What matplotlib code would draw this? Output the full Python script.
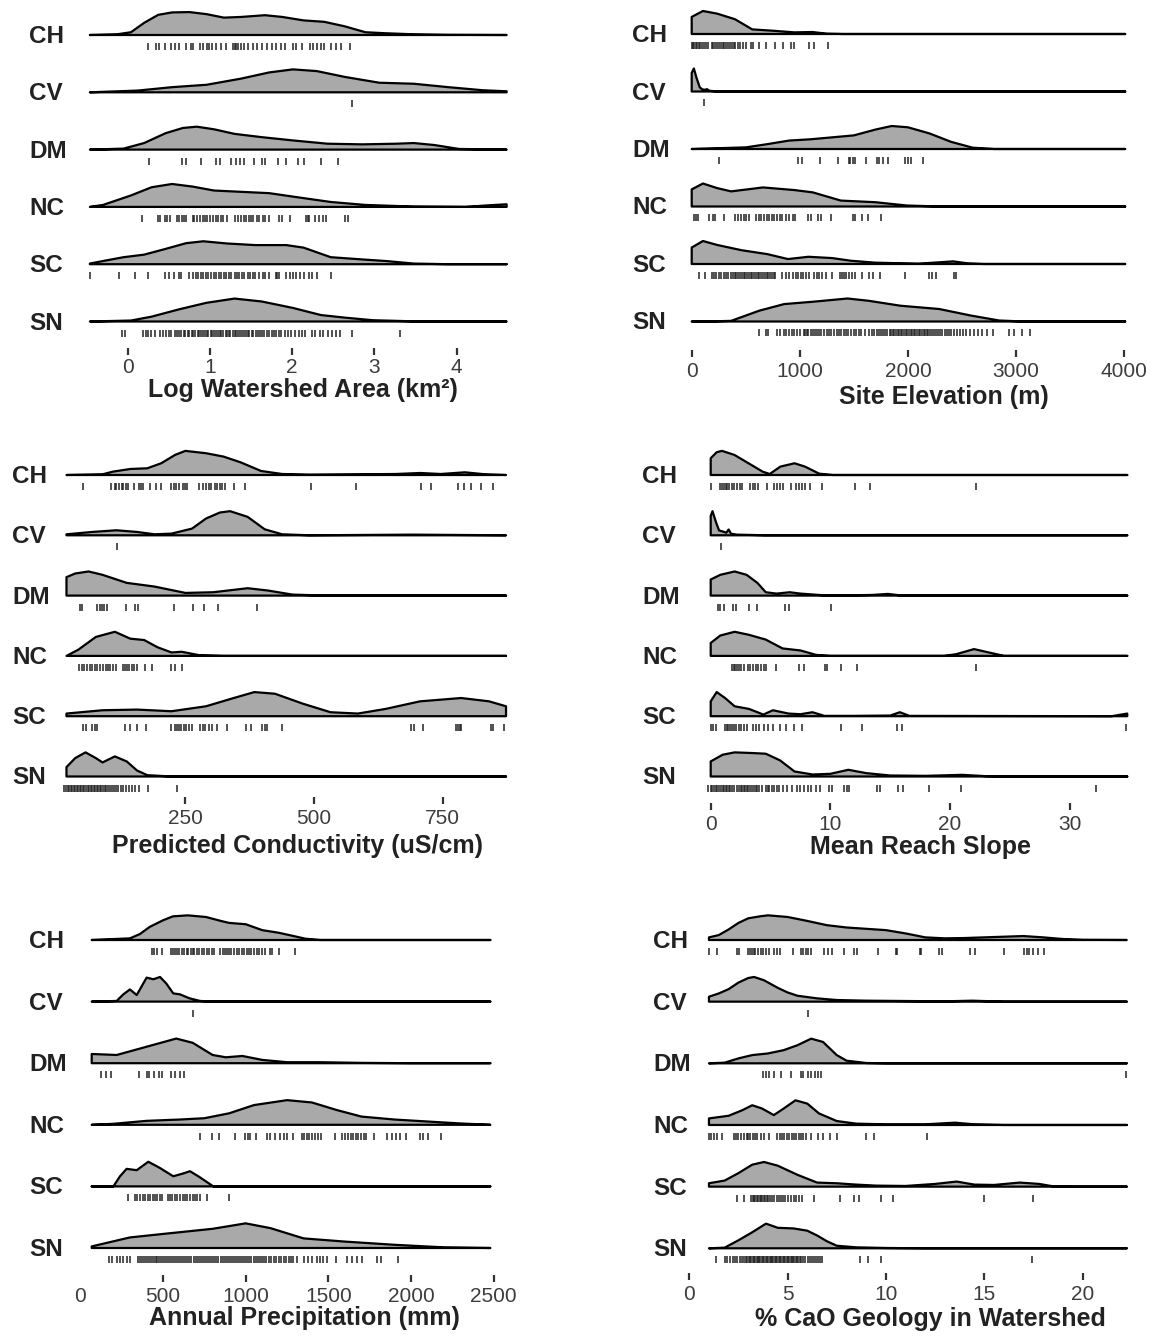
import matplotlib
matplotlib.use('Agg')
import matplotlib.pyplot as plt
import matplotlib.transforms as mtransforms
import numpy as np

plt.rcParams['font.family'] = ['Liberation Sans', 'DejaVu Sans']

GROUPS = ['CH', 'CV', 'DM', 'NC', 'SC', 'SN']

# ---- Log watershed area -------------------------------------------------
AREA_DENS = {
    'CH': ([-0.46, -0.13, 0.04, 0.2, 0.37, 0.54, 0.75, 0.96, 1.17, 1.38, 1.67, 1.88, 2.14, 2.39, 2.64, 2.89, 3.14, 3.48, 3.9, 4.61],
           [0, 2, 8, 35, 58, 65, 66, 60, 50, 52, 57, 52, 42, 38, 25, 8, 5, 2, 0.5, 0]),
    'CV': ([-0.46, 0.12, 0.54, 0.96, 1.38, 1.72, 2.01, 2.30, 2.64, 3.06, 3.48, 3.90, 4.32, 4.61],
           [0, 5, 15, 22, 40, 58, 67, 62, 45, 28, 25, 15, 6, 3]),
    'DM': ([-0.46, -0.05, 0.2, 0.46, 0.67, 0.84, 1.05, 1.30, 1.63, 2.01, 2.43, 2.85, 3.27, 3.48, 3.73, 4.03, 4.61],
           [0, 3, 20, 50, 66, 70, 62, 48, 38, 28, 18, 16, 18, 20, 14, 2, 0]),
    'NC': ([-0.46, -0.3, 0.04, 0.29, 0.54, 0.79, 1.05, 1.38, 1.72, 2.05, 2.47, 2.89, 3.48, 4.11, 4.40, 4.61],
           [0, 6, 35, 60, 70, 62, 50, 46, 42, 30, 15, 6, 1, 0, 5, 8]),
    'SC': ([-0.46, -0.3, -0.05, 0.2, 0.46, 0.71, 0.92, 1.21, 1.55, 1.93, 2.14, 2.47, 2.85, 3.14, 3.48, 3.9, 4.61],
           [2, 10, 22, 30, 48, 66, 72, 65, 60, 60, 52, 22, 15, 10, 2, 0, 0]),
    'SN': ([-0.46, 0.04, 0.29, 0.63, 0.96, 1.30, 1.63, 2.01, 2.35, 2.64, 2.98, 3.48, 4.61],
           [0, 3, 15, 38, 58, 71, 62, 42, 20, 12, 4, 0.5, 0]),
}
AREA_RUG = {
    'CH': [0.25, 0.35, 0.38, 0.45, 0.53, 0.58, 0.63, 0.71, 0.77, 0.79, 0.88, 0.92, 0.96, 0.99, 1.02, 1.07, 1.13,
           1.19, 1.28, 1.30, 1.32, 1.34, 1.38, 1.42, 1.46, 1.53, 1.57, 1.63, 1.70, 1.76, 1.80, 1.86, 1.91, 2.01,
           2.05, 2.12, 2.22, 2.26, 2.30, 2.35, 2.39, 2.47, 2.54, 2.60, 2.70],
    'CV': [2.73],
    'DM': [0.26, 0.66, 0.71, 0.89, 1.08, 1.12, 1.26, 1.32, 1.37, 1.42, 1.54, 1.63, 1.67, 1.83, 1.92, 2.07, 2.14,
           2.35, 2.56],
    'NC': [0.17, 0.37, 0.39, 0.45, 0.48, 0.51, 0.60, 0.63, 0.66, 0.69, 0.71, 0.79, 0.81, 0.84, 0.88, 0.91, 0.94,
           0.97, 1.00, 1.04, 1.07, 1.10, 1.13, 1.16, 1.21, 1.30, 1.34, 1.38, 1.41, 1.44, 1.47, 1.50, 1.53, 1.57,
           1.60, 1.64, 1.67, 1.72, 1.84, 1.88, 1.98, 2.17, 2.19, 2.21, 2.28, 2.33, 2.37, 2.41, 2.64, 2.68],
    'SC': [-0.46, -0.10, 0.09, 0.25, 0.45, 0.50, 0.56, 0.63, 0.65, 0.75, 0.79, 0.83, 0.86, 0.89, 0.92, 0.95, 0.98,
           1.01, 1.05, 1.08, 1.11, 1.14, 1.17, 1.20, 1.23, 1.26, 1.30, 1.33, 1.36, 1.39, 1.42, 1.46, 1.49, 1.52,
           1.55, 1.60, 1.64, 1.67, 1.72, 1.80, 1.82, 1.84, 1.93, 1.97, 2.01, 2.05, 2.10, 2.14, 2.20, 2.24, 2.30, 2.47],
    'SN': [-0.07, -0.03, 0.19, 0.22, 0.25, 0.28, 0.33, 0.39, 0.43, 0.47, 0.50, 0.53, 0.57, 0.60, 0.62, 0.65, 0.68,
           0.70, 0.73, 0.75, 0.78, 0.80, 0.82, 0.85, 0.87, 0.89, 0.92, 0.94, 0.96, 0.98, 1.01, 1.03, 1.05, 1.07,
           1.10, 1.12, 1.14, 1.16, 1.19, 1.21, 1.23, 1.25, 1.28, 1.30, 1.32, 1.34, 1.37, 1.39, 1.41, 1.44, 1.46,
           1.48, 1.51, 1.53, 1.56, 1.58, 1.61, 1.63, 1.66, 1.69, 1.72, 1.75, 1.78, 1.81, 1.84, 1.87, 1.91, 1.95,
           1.99, 2.03, 2.08, 2.12, 2.16, 2.24, 2.28, 2.34, 2.38, 2.44, 2.48, 2.54, 2.58, 2.73, 3.31],
}

# ---- Site elevation ------------------------------------------------------
ELEV_DENS = {
    'CH': ([0, 104, 235, 400, 560, 750, 950, 1116, 1250, 1400, 4010],
           [52, 70, 62, 45, 14, 10, 5, 6, 1, 0, 0]),
    'CV': ([0, 20, 45, 75, 100, 125, 140, 165, 250, 4010],
           [55, 68, 40, 12, 6, 5, 7, 2, 0, 0]),
    'DM': ([0, 200, 500, 700, 900, 1100, 1300, 1500, 1700, 1850, 2000, 2200, 2400, 2600, 2800, 4010],
           [0, 2, 5, 15, 26, 30, 36, 42, 60, 71, 67, 48, 22, 4, 0, 0]),
    'NC': ([0, 104, 235, 365, 660, 950, 1120, 1380, 1700, 1990, 2300, 4010],
           [52, 70, 56, 46, 58, 50, 43, 18, 13, 3, 0, 0]),
    'SC': ([0, 104, 235, 460, 700, 890, 1080, 1300, 1470, 1700, 2100, 2420, 2550, 2700, 4010],
           [50, 70, 58, 42, 30, 15, 22, 18, 10, 4, 1, 8, 2, 0, 0]),
    'SN': ([0, 200, 365, 626, 855, 1116, 1442, 1638, 1931, 2290, 2584, 2845, 3073, 4010],
           [0, 0.5, 2, 33, 53, 60, 70, 63, 48, 38, 18, 3, 0, 0]),
}
ELEV_RUG = {
    'CH': [0, 12, 25, 38, 52, 65, 80, 95, 110, 128, 150, 185, 200, 215, 232, 250, 268, 285, 300, 318, 335, 352,
           370, 388, 405, 425, 445, 470, 500, 545, 568, 620, 685, 767, 848, 914, 946, 1083, 1132, 1263],
    'CV': [114],
    'DM': [251, 985, 1018, 1188, 1351, 1452, 1468, 1491, 1514, 1612, 1713, 1736, 1768, 1817, 1971, 1997, 2029, 2144],
    'NC': [23, 39, 55, 163, 196, 219, 300, 398, 431, 457, 480, 502, 529, 594, 620, 643, 666, 692, 718, 741, 763,
           790, 816, 839, 871, 904, 936, 953, 1077, 1100, 1171, 1197, 1285, 1491, 1507, 1573, 1628, 1752],
    'SC': [72, 121, 186, 202, 228, 251, 274, 300, 316, 339, 359, 382, 398, 414, 431, 447, 463, 480, 496, 512, 529,
           545, 561, 578, 594, 610, 626, 643, 659, 675, 692, 708, 724, 741, 757, 773, 839, 871, 904, 936, 962, 985,
           1011, 1034, 1060, 1083, 1132, 1155, 1181, 1204, 1246, 1295, 1370, 1387, 1409, 1432, 1458, 1481, 1514,
           1573, 1638, 1680, 1746, 1971, 2192, 2225, 2258, 2431, 2447],
    'SN': [618, 689, 710, 788, 819, 850, 871, 896, 927, 948, 973, 1004, 1035, 1050, 1065, 1080, 1100, 1120, 1140,
           1160, 1180, 1200, 1225, 1250, 1270, 1290, 1315, 1340, 1360, 1385, 1410, 1430, 1450, 1475, 1500, 1520,
           1545, 1570, 1600, 1640, 1665, 1690, 1710, 1730, 1750, 1770, 1790, 1810, 1830, 1845, 1860, 1875, 1890,
           1905, 1920, 1935, 1950, 1965, 1980, 1995, 2010, 2025, 2040, 2055, 2070, 2085, 2100, 2115, 2130, 2145,
           2160, 2175, 2190, 2205, 2220, 2240, 2260, 2280, 2300, 2320, 2340, 2360, 2380, 2400, 2425, 2450, 2480,
           2510, 2540, 2575, 2610, 2650, 2690, 2734, 2787, 2935, 2981, 3052, 3126],
}

# ---- Predicted conductivity ---------------------------------------------
COND_DENS = {
    'CH': ([19, 89, 109, 143, 176, 203, 230, 250, 290, 324, 357, 397, 438, 491, 659, 706, 746, 793, 833, 873],
           [0, 2, 10, 18, 20, 35, 60, 72, 65, 55, 38, 12, 3, 1, 3, 6, 3, 8, 2, 0]),
    'CV': ([19, 69, 116, 156, 190, 223, 263, 290, 317, 337, 371, 404, 438, 491, 692, 873],
           [3, 10, 15, 10, 3, 5, 20, 50, 68, 72, 55, 18, 3, 0, 2, 0]),
    'DM': ([19, 36, 62, 89, 136, 190, 250, 304, 371, 411, 458, 525, 873],
           [55, 66, 72, 62, 38, 27, 8, 10, 22, 15, 3, 0, 0]),
    'NC': ([19, 42, 76, 113, 143, 170, 196, 223, 243, 277, 324, 873],
           [0, 18, 55, 70, 50, 46, 25, 10, 12, 2, 0, 0]),
    'SC': ([19, 89, 156, 223, 290, 344, 384, 424, 478, 532, 585, 639, 706, 786, 840, 873],
           [8, 18, 20, 15, 30, 55, 73, 68, 38, 12, 8, 22, 45, 55, 45, 30]),
    'SN': ([19, 36, 56, 76, 89, 113, 136, 156, 176, 223, 873],
           [28, 55, 72, 55, 42, 60, 45, 18, 4, 0, 0]),
}
COND_RUG = {
    'CH': [51, 106, 113, 116, 121, 126, 129, 135, 139, 151, 160, 164, 168, 182, 193, 202, 222, 227, 231, 237, 245,
           250, 253, 277, 284, 290, 296, 300, 307, 312, 317, 322, 327, 344, 365, 495, 582, 708, 728, 779, 792, 805,
           825, 848],
    'CV': [117],
    'DM': [46, 50, 79, 84, 88, 92, 97, 135, 153, 158, 227, 265, 286, 314, 389],
    'NC': [44, 49, 54, 59, 64, 69, 74, 79, 84, 89, 95, 99, 104, 109, 115, 129, 133, 137, 141, 146, 151, 156, 171,
           186, 223, 229, 243],
    'SC': [51, 56, 69, 74, 79, 133, 143, 156, 173, 223, 229, 233, 238, 242, 247, 251, 257, 263, 278, 284, 289, 296,
           302, 312, 330, 367, 377, 399, 404, 408, 438, 689, 694, 711, 776, 779, 783, 786, 843, 848, 870],
    'SN': [15, 18, 21, 24, 27, 30, 33, 36, 39, 42, 45, 48, 51, 54, 57, 60, 63, 66, 69, 72, 75, 78, 81, 84, 87, 90,
           93, 96, 99, 103, 107, 111, 115, 120, 124, 129, 135, 141, 146, 153, 160, 178, 233],
}

# ---- Mean reach slope ----------------------------------------------------
SLOPE_DENS = {
    'CH': ([0, 0.5, 0.94, 1.98, 3.16, 4.34, 4.93, 5.82, 7.0, 7.88, 9.06, 10.2, 34.8],
           [50, 68, 72, 60, 35, 10, 3, 25, 35, 25, 4, 0, 0]),
    'CV': ([0, 0.15, 0.45, 0.7, 1.0, 1.3, 1.5, 1.7, 2.2, 3.5, 4.5, 34.8],
           [60, 75, 40, 15, 12, 8, 18, 5, 2, 1, 0, 0]),
    'DM': ([0, 0.8, 2.0, 3.0, 3.9, 4.6, 5.5, 6.6, 7.5, 9.0, 10.0, 13.5, 14.8, 16.0, 34.8],
           [48, 62, 72, 62, 38, 10, 6, 10, 6, 2, 0, 2, 5, 0, 0]),
    'NC': ([0, 0.8, 2.0, 3.2, 4.6, 6.0, 7.5, 8.8, 10.0, 19.5, 20.5, 22.0, 23.0, 24.5, 34.8],
           [38, 60, 71, 62, 48, 22, 16, 3, 0, 0, 5, 20, 12, 0, 0]),
    'SC': ([0, 0.5, 1.2, 2.0, 3.2, 4.4, 5.2, 6.5, 7.5, 8.5, 9.5, 12.0, 15.0, 15.8, 16.6, 33.5, 34.8],
           [45, 73, 55, 30, 22, 5, 18, 8, 6, 12, 1, 1, 2, 12, 1, 0, 8]),
    'SN': ([0, 1.0, 2.0, 3.5, 4.6, 5.8, 7.0, 8.5, 10.0, 11.5, 13.0, 15.0, 18.0, 21.0, 23.0, 25.0, 34.8],
           [45, 65, 72, 70, 68, 48, 15, 6, 8, 20, 10, 3, 2, 5, 1, 0, 0]),
}
SLOPE_RUG = {
    'CH': [0.06, 0.74, 0.94, 1.09, 1.24, 1.39, 1.54, 1.74, 1.98, 2.21, 2.42, 2.63, 3.31, 3.51, 3.69, 3.96, 4.69,
           5.31, 5.52, 5.82, 6.05, 6.70, 7.09, 7.38, 7.59, 7.88, 8.33, 9.30, 12.02, 13.29, 22.14],
    'CV': [0.86],
    'DM': [0.65, 0.80, 1.09, 1.83, 2.13, 3.16, 3.84, 6.17, 6.55, 10.01],
    'NC': [1.74, 1.92, 2.07, 2.21, 2.36, 2.57, 2.80, 3.10, 3.31, 3.51, 3.75, 3.96, 4.19, 4.43, 4.64, 5.43, 7.38,
           7.82, 9.51, 9.71, 10.92, 12.22, 22.14],
    'SC': [0.0, 0.21, 0.41, 1.18, 1.33, 1.48, 1.62, 1.77, 1.92, 2.13, 2.36, 2.57, 2.80, 3.01, 3.54, 3.75, 4.04,
           4.49, 4.78, 5.23, 5.76, 6.32, 7.00, 7.65, 10.92, 12.61, 15.56, 16.0, 34.66],
    'SN': [-0.2, 0.0, 0.15, 0.3, 0.45, 0.55, 0.7, 0.85, 1.0, 1.1, 1.25, 1.4, 1.5, 1.65, 1.8, 1.95, 2.2, 2.35, 2.5,
           2.6, 2.75, 2.9, 3.0, 3.15, 3.3, 3.45, 3.6, 3.75, 3.9, 4.05, 4.3, 4.6, 4.75, 4.9, 5.1, 5.3, 5.5, 5.7,
           6.0, 6.4, 6.8, 7.2, 7.5, 7.8, 8.1, 8.4, 8.8, 9.1, 9.92, 10.11, 11.17, 11.36, 11.56, 13.87, 14.15,
           15.68, 16.10, 18.27, 20.92, 32.2],
}

# ---- Annual precipitation ------------------------------------------------
PRECIP_DENS = {
    'CH': ([69, 300, 360, 420, 500, 560, 650, 760, 850, 900, 1000, 1100, 1200, 1290, 1360, 1450, 2479],
           [0, 5, 18, 40, 60, 72, 75, 70, 58, 52, 48, 30, 22, 12, 4, 0, 0]),
    'CV': ([69, 220, 260, 300, 341, 401, 442, 482, 520, 562, 603, 660, 724, 800, 2479],
           [0, 2, 22, 37, 20, 73, 68, 75, 55, 25, 22, 10, 2, 0, 0]),
    'DM': ([69, 220, 400, 580, 680, 800, 880, 980, 1100, 1250, 1450, 1700, 2000, 2479],
           [28, 25, 50, 75, 62, 25, 18, 22, 10, 3, 3, 1, 0, 0]),
    'NC': ([69, 200, 400, 600, 750, 900, 1050, 1250, 1400, 1550, 1700, 1900, 2100, 2300, 2479],
           [0, 3, 12, 16, 20, 35, 60, 75, 68, 45, 25, 16, 10, 4, 0]),
    'SC': ([69, 200, 240, 280, 341, 411, 480, 562, 620, 663, 720, 804, 2479],
           [0, 0, 30, 52, 48, 73, 55, 30, 38, 45, 28, 0, 0]),
    'SN': ([69, 300, 520, 800, 1000, 1150, 1350, 1600, 1900, 2200, 2479],
           [5, 33, 45, 60, 77, 62, 30, 20, 10, 2, 0]),
}
PRECIP_RUG = {
    'CH': [436, 446, 462, 495, 546, 558, 572, 586, 598, 613, 627, 643, 653, 667, 679, 689, 703, 719, 733, 748, 764,
           778, 794, 808, 844, 860, 874, 884, 900, 914, 929, 945, 961, 975, 989, 1005, 1021, 1035, 1049, 1066,
           1078, 1096, 1116, 1146, 1162, 1203, 1297],
    'CV': [679],
    'DM': [125, 156, 186, 357, 401, 415, 446, 474, 494, 546, 572, 602, 629],
    'NC': [723, 794, 840, 935, 995, 1011, 1029, 1061, 1126, 1146, 1179, 1207, 1233, 1251, 1288, 1338, 1352, 1368,
           1384, 1400, 1418, 1438, 1458, 1539, 1585, 1601, 1619, 1634, 1650, 1666, 1680, 1696, 1714, 1730, 1777,
           1855, 1882, 1906, 1932, 1972, 2052, 2073, 2103, 2179],
    'SC': [291, 331, 345, 361, 377, 393, 407, 421, 437, 451, 466, 482, 495, 528, 542, 556, 572, 586, 602, 619, 633,
           647, 663, 679, 693, 707, 723, 764, 897],
    'SN': [175, 190, 220, 240, 260, 280, 300, 351, 362, 373, 385, 398, 410, 420, 432, 445, 455, 465, 478, 490, 500,
           512, 525, 535, 548, 560, 572, 585, 596, 610, 622, 635, 648, 660, 672, 685, 698, 710, 722, 735, 748, 760,
           772, 785, 798, 810, 822, 835, 848, 860, 872, 885, 898, 910, 922, 935, 948, 960, 972, 985, 998, 1010,
           1022, 1035, 1048, 1060, 1072, 1085, 1098, 1110, 1125, 1140, 1155, 1170, 1185, 1200, 1215, 1230, 1245,
           1260, 1275, 1288, 1308, 1353, 1379, 1399, 1429, 1449, 1470, 1490, 1546, 1611, 1641, 1671, 1702, 1792,
           1818, 1923],
}

# ---- % CaO geology -------------------------------------------------------
CAO_DENS = {
    'CH': ([1.0, 1.5, 2.0, 2.5, 3.0, 3.6, 4.0, 5.0, 6.0, 7.0, 8.0, 9.0, 10.0, 11.0, 12.0, 13.0, 14.0, 15.0, 16.0,
            17.0, 18.0, 19.0, 20.0, 22.25],
           [8, 15, 32, 52, 66, 72, 75, 70, 58, 45, 38, 34, 30, 20, 8, 5, 6, 8, 10, 12, 8, 3, 0.5, 0]),
    'CV': ([1.0, 1.5, 2.0, 2.5, 3.0, 3.3, 3.8, 4.5, 5.0, 5.5, 6.5, 7.5, 9.0, 11.0, 13.0, 14.4, 16.0, 22.25],
           [15, 25, 38, 58, 72, 75, 65, 42, 28, 18, 10, 5, 3, 2, 1, 3, 0, 0]),
    'DM': ([1.0, 1.8, 2.5, 3.2, 4.0, 4.8, 5.5, 6.2, 6.8, 7.5, 8.0, 9.0, 10.0, 22.25],
           [0, 2, 15, 25, 30, 40, 55, 75, 65, 25, 8, 1, 0, 0]),
    'NC': ([1.0, 2.0, 2.7, 3.2, 3.7, 4.3, 4.8, 5.4, 6.0, 6.6, 7.5, 8.5, 10.0, 12.0, 13.5, 14.5, 16.0, 22.25],
           [20, 28, 45, 60, 50, 30, 50, 75, 65, 35, 12, 4, 2, 2, 7, 2, 0, 0]),
    'SC': ([1.0, 1.8, 2.5, 3.2, 3.8, 4.5, 5.5, 6.5, 7.5, 8.5, 9.5, 11.0, 12.5, 13.6, 14.5, 15.5, 16.8, 17.8, 18.5,
            19.5, 22.25],
           [10, 18, 40, 65, 73, 62, 35, 12, 10, 6, 3, 2, 8, 15, 6, 5, 12, 8, 1, 0, 0]),
    'SN': ([1.0, 1.8, 2.5, 3.2, 3.9, 4.5, 5.3, 6.0, 6.5, 7.0, 7.5, 8.5, 10.0, 12.0, 22.25],
           [0, 2, 25, 50, 77, 64, 62, 55, 40, 22, 8, 3, 1, 0, 0]),
}
CAO_RUG = {
    'CH': [0.99, 1.42, 2.43, 2.55, 2.97, 3.09, 3.18, 3.27, 3.36, 3.51, 3.63, 3.76, 3.90, 4.05, 4.30, 4.44, 4.59,
           5.25, 5.67, 5.79, 5.92, 6.06, 6.21, 6.87, 7.05, 7.28, 7.86, 8.40, 8.54, 9.60, 10.52, 10.56, 11.73, 11.76,
           12.72, 12.86, 14.28, 14.51, 16.01, 17.0, 17.16, 17.30, 17.48, 17.75, 18.02],
    'CV': [6.06],
    'DM': [3.76, 3.90, 4.05, 4.32, 4.66, 5.16, 5.67, 5.79, 6.03, 6.21, 6.38, 6.56, 6.69, 22.19],
    'NC': [0.99, 1.12, 1.24, 1.42, 1.65, 2.25, 2.37, 2.50, 2.64, 2.79, 2.91, 3.00, 3.09, 3.22, 3.33, 3.45, 3.63,
           3.81, 4.05, 4.48, 4.59, 4.71, 4.84, 4.95, 5.07, 5.20, 5.31, 5.43, 5.56, 5.67, 5.79, 5.92, 6.17, 6.56,
           6.78, 7.18, 7.50, 8.97, 9.39, 12.09],
    'SC': [2.43, 2.79, 3.15, 3.22, 3.29, 3.36, 3.44, 3.51, 3.58, 3.65, 3.72, 3.79, 3.87, 3.94, 4.01, 4.12, 4.23,
           4.33, 4.44, 4.55, 4.66, 4.77, 4.89, 5.02, 5.16, 5.31, 5.43, 5.56, 5.74, 6.33, 7.64, 8.40, 8.62, 9.75,
           10.38, 15.0, 17.48],
    'SN': [1.36, 1.81, 1.93, 2.07, 2.20, 2.32, 2.44, 2.58, 2.66, 2.78, 2.88, 2.95, 3.02, 3.08, 3.15, 3.22, 3.28,
           3.35, 3.42, 3.48, 3.55, 3.62, 3.68, 3.75, 3.82, 3.88, 3.95, 4.02, 4.08, 4.15, 4.22, 4.28, 4.35, 4.42,
           4.48, 4.55, 4.62, 4.68, 4.75, 4.82, 4.88, 4.95, 5.02, 5.08, 5.15, 5.22, 5.28, 5.35, 5.42, 5.48, 5.55,
           5.62, 5.70, 5.78, 5.90, 6.02, 6.12, 6.22, 6.35, 6.45, 6.55, 6.65, 6.73, 8.68, 9.11, 9.73, 17.42],
}

TITLES = ['Log Watershed Area (km²)', 'Site Elevation (m)', 'Predicted Conductivity (uS/cm)',
          'Mean Reach Slope', 'Annual Precipitation (mm)', '% CaO Geology in Watershed']
TICKS = [[0, 1, 2, 3, 4], [0, 1000, 2000, 3000, 4000], [250, 500, 750],
         [0, 10, 20, 30], [0, 500, 1000, 1500, 2000, 2500], [0, 5, 10, 15, 20]]

W, H = 1154, 1337
FILL = '#a9a9a9'

# layout in pixels: x of value 0, px per unit, xlim, CH baseline, SN baseline,
# axis line, label left, title centre
PANELS = [
    dict(dens=AREA_DENS, rug=AREA_RUG, x0=127.7, ppu=82.2, xlim=(-0.5, 4.65),
         top=35, bot=321.5, axis=348, lab=29, tpos=(303, 390), pad=2.5),
    dict(dens=ELEV_DENS, rug=ELEV_RUG, x0=691.7, ppu=0.1081, xlim=(-40, 4050),
         top=34, bot=321.5, axis=350, lab=632, tpos=(944, 397), pad=4),
    dict(dens=COND_DENS, rug=COND_RUG, x0=56.7, ppu=0.5147, xlim=(15, 880),
         top=475, bot=776.5, axis=797, lab=12, tpos=(297.5, 846), pad=4),
    dict(dens=SLOPE_DENS, rug=SLOPE_RUG, x0=710.7, ppu=11.97, xlim=(-0.5, 35.0),
         top=475, bot=776.5, axis=803, lab=642, tpos=(920, 847), pad=4),
    dict(dens=PRECIP_DENS, rug=PRECIP_RUG, x0=80.3, ppu=0.1654, xlim=(-10, 2510),
         top=940, bot=1248, axis=1275, lab=29, tpos=(304, 1318), pad=4),
    dict(dens=CAO_DENS, rug=CAO_RUG, x0=689.3, ppu=19.66, xlim=(-0.3, 22.5),
         top=940, bot=1248.3, axis=1273, lab=653, tpos=(930, 1319), pad=4),
]

fig = plt.figure(figsize=(W / 100, H / 100), dpi=100)

for i, p in enumerate(PANELS):
    s = (p['bot'] - p['top']) / 5.0
    left = p['x0'] + p['ppu'] * p['xlim'][0]
    right = p['x0'] + p['ppu'] * p['xlim'][1]
    top_px = p['top'] - 0.75 * s
    ax = fig.add_axes([left / W, 1 - p['axis'] / H, (right - left) / W, (p['axis'] - top_px) / H])
    ax.set_xlim(*p['xlim'])
    ax.set_ylim(-(p['axis'] - p['bot']) / s, 5.75)
    for sp in ax.spines.values():
        sp.set_visible(False)
    ax.set_yticks([])
    ax.set_xticks(TICKS[i])
    ax.tick_params(axis='x', length=5, width=1.6, color='#333333', labelsize=15,
                   labelcolor='#3d3d3d', pad=p['pad'])
    if i == 4:
        ax.xaxis.get_major_ticks()[0].tick1line.set_visible(False)

    trans = mtransforms.blended_transform_factory(fig.transFigure, ax.transData)
    for k, g in enumerate(GROUPS):
        row = 5 - k
        xs, hs = p['dens'][g]
        xs = np.asarray(xs, float)
        hs = np.asarray(hs, float)
        hs = hs / hs.max() * 0.4
        px = np.concatenate([[xs[0]], xs, [xs[-1]]])
        py = np.concatenate([[row], row + hs, [row]])
        ax.fill(px, py, facecolor=FILL, edgecolor='black', lw=1.6,
                joinstyle='round', clip_on=False, zorder=2)
        ax.vlines(p['rug'][g], row - 15 / s, row - 8 / s, color='#222222', lw=1.1,
                  clip_on=False, zorder=3)
        ax.text(p['lab'] / W, row - 8 / s, g, transform=trans, ha='left', va='baseline',
                fontsize=17.5, fontweight='bold', color='#222222')

    fig.text(p['tpos'][0] / W, 1 - p['tpos'][1] / H, TITLES[i], ha='center', va='center',
             fontsize=18, fontweight='bold', color='#222222')

fig.savefig('out.png', dpi=100, facecolor='white')
